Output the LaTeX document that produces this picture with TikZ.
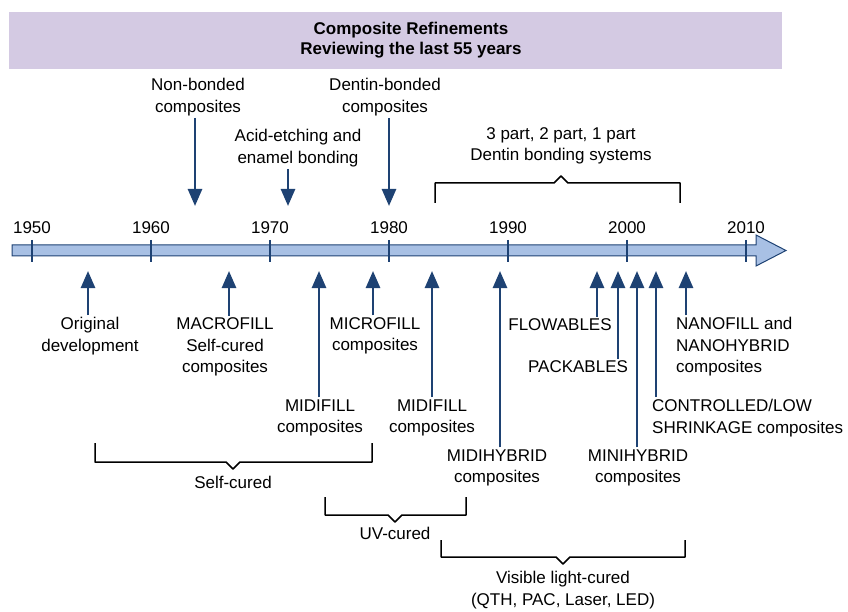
\documentclass[tikz,border=0pt]{standalone}
\usepackage{fontspec}
\setmainfont{Liberation Sans}
\usetikzlibrary{arrows.meta}
\definecolor{navy}{HTML}{1E4273}
\definecolor{barblue}{HTML}{A8C0E4}
\definecolor{band}{HTML}{D4CAE3}

\begin{document}
\begin{tikzpicture}[x=1pt,y=-1pt]
    \tikzset{
        lbl/.style={align=center, font=\fontsize{17}{21.5}\selectfont, inner sep=2pt},
        arr/.style={navy, line width=2.6pt, -{Triangle[length=17pt,width=14pt]}},
        brace/.style={line width=1.5pt, line join=round},
        yeartick/.style={navy, line width=2pt}
    }
    \useasboundingbox (0,0) rectangle (848,612);
    \fill[band] (9,12) rectangle (782,69);
    \node[lbl, font=\fontsize{17}{20.5}\selectfont\bfseries] (title) at (411,40) {Composite Refinements\\Reviewing the last 55 years};
    % time axis
    \draw[navy, fill=barblue, line width=1pt] (12,245) -- (756,245) -- (756,235) -- (786,250.5) -- (756,266) -- (756,256) -- (12,256) -- cycle;
    \foreach \yr [count=\i from 0] in {1950,1960,...,2010} {
        \draw[yeartick] (32+119*\i,240) -- (32+119*\i,262);
        \node[lbl] (y\yr) at (32+119*\i,228) {\yr};
    }
    % above the axis
    \node[lbl] (nonb) at (198,97) {Non-bonded\\composites};
    \node[lbl] (acid) at (298,148) {Acid-etching and\\enamel bonding};
    \node[lbl] (dentb) at (385,97) {Dentin-bonded\\composites};
    \node[lbl] (dbs) at (561,146) {3 part, 2 part, 1 part\\Dentin bonding systems};
    \coordinate (d-nonb) at (195,206);
    \coordinate (d-acid) at (288,206);
    \coordinate (d-dentb) at (389,206);
    \draw[arr] (nonb.south -| d-nonb) -- (d-nonb);
    \draw[arr] (acid.south -| d-acid) -- (d-acid);
    \draw[arr] (dentb.south -| d-dentb) -- (d-dentb);
    \draw[brace] (435,203) -- (435,183) -- (554,183) -- (561,176) -- (568,183) -- (680,183) -- (680,203);
    % below the axis
    \node[lbl] (orig) at (90,336) {Original\\development};
    \node[lbl] (macro) at (225,347) {MACROFILL\\Self-cured\\composites};
    \node[lbl] (midil) at (320,418) {MIDIFILL\\composites};
    \node[lbl] (micro) at (375,336) {MICROFILL\\composites};
    \node[lbl] (midir) at (432,418) {MIDIFILL\\composites};
    \node[lbl] (midih) at (497,468) {MIDIHYBRID\\composites};
    \node[lbl] (flow) at (560,325) {FLOWABLES};
    \node[lbl] (pack) at (578,367) {PACKABLES};
    \node[lbl] (minih) at (638,468) {MINIHYBRID\\composites};
    \node[lbl, align=left, anchor=west] (ctrl) at (650,418) {CONTROLLED/LOW\\SHRINKAGE composites};
    \node[lbl, align=left, anchor=west] (nano) at (674,347) {NANOFILL and\\NANOHYBRID\\composites};
    \foreach \name/\x in {orig/88, macro/229, midil/319, micro/373, midir/432, midih/500, flow/597, pack/618, minih/637, ctrl/656, nano/686} {
        \coordinate (u-\name) at (\x,271);
        \draw[arr] (\name.north -| u-\name) -- (u-\name);
    }
    % curing brackets
    \draw[brace] (95,443) -- (95,462) -- (226,462) -- (233,469) -- (240,462) -- (372,462) -- (372,443);
    \node[lbl] (self) at (233,482) {Self-cured};
    \draw[brace] (325,497) -- (325,515) -- (388,515) -- (395,522) -- (402,515) -- (466,515) -- (466,497);
    \node[lbl] (uv) at (395,533) {UV-cured};
    \draw[brace] (441,540) -- (441,557) -- (556,557) -- (563,564) -- (570,557) -- (685,557) -- (685,540);
    \node[lbl] (vis) at (563,590) {Visible light-cured\\(QTH, PAC, Laser, LED)};
\end{tikzpicture}
\end{document}
